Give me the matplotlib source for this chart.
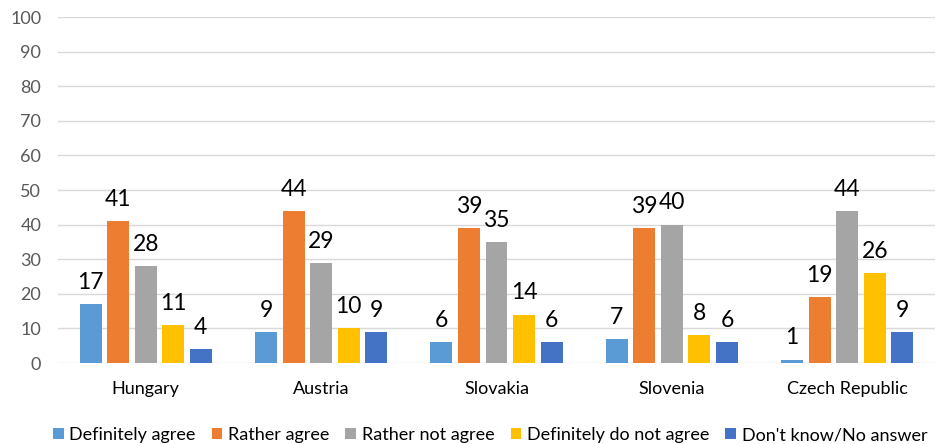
import matplotlib
matplotlib.use("Agg")
import matplotlib.pyplot as plt
import numpy as np

plt.rcParams['font.family'] = ['Lato', 'DejaVu Sans']

countries = ["Hungary", "Austria", "Slovakia", "Slovenia", "Czech Republic"]
series_names = ["Definitely agree", "Rather agree", "Rather not agree",
                "Definitely do not agree", "Don't know/No answer"]
definitely_agree = [17, 9, 6, 7, 1]
rather_agree = [41, 44, 39, 39, 19]
rather_not_agree = [28, 29, 35, 40, 44]
definitely_not = [11, 10, 14, 8, 26]
dont_know = [4, 9, 6, 6, 9]
series = [definitely_agree, rather_agree, rather_not_agree, definitely_not, dont_know]
colors = ["#5B9BD5", "#ED7D31", "#A5A5A5", "#FFC000", "#4472C4"]
yticks = list(range(0, 101, 10))

fig = plt.figure(figsize=(9.43, 4.44), dpi=100)
ax = fig.add_axes([0.0615, 0.1824, 0.93, 0.7793])

x = np.arange(len(countries))
width = 0.125
pitch = 0.157
for i, (vals, c, name) in enumerate(zip(series, colors, series_names)):
    pos = x + (i - 2) * pitch
    bars = ax.bar(pos, vals, width, color=c, label=name, zorder=3)
    for b, v in zip(bars, vals):
        ax.annotate(str(v), (b.get_x() + b.get_width() / 2, v),
                    xytext=(0, 8), textcoords="offset points",
                    ha="center", va="bottom", fontsize=16.5, color="#000000")

ax.set_xlim(-0.5, len(countries) - 0.5)
ax.set_ylim(0, 100)
ax.set_yticks(yticks)
ax.set_xticks(x)
ax.set_xticklabels(countries, fontsize=13, color="#000000")
ax.tick_params(axis='y', labelsize=13, labelcolor="#595959", length=0, pad=12)
ax.tick_params(axis='x', length=0, pad=13)
ax.grid(axis='y', color="#D9D9D9", linewidth=1, zorder=0)
for s in ax.spines.values():
    s.set_visible(False)

leg = fig.legend(loc="center", bbox_to_anchor=(490 / 943, 1 - 435 / 444), ncol=5,
                 frameon=False, fontsize=13, handlelength=0.6, handleheight=0.6,
                 handletextpad=0.3, columnspacing=0.9, borderaxespad=0, borderpad=0)

fig.savefig("out.png", dpi=100)
